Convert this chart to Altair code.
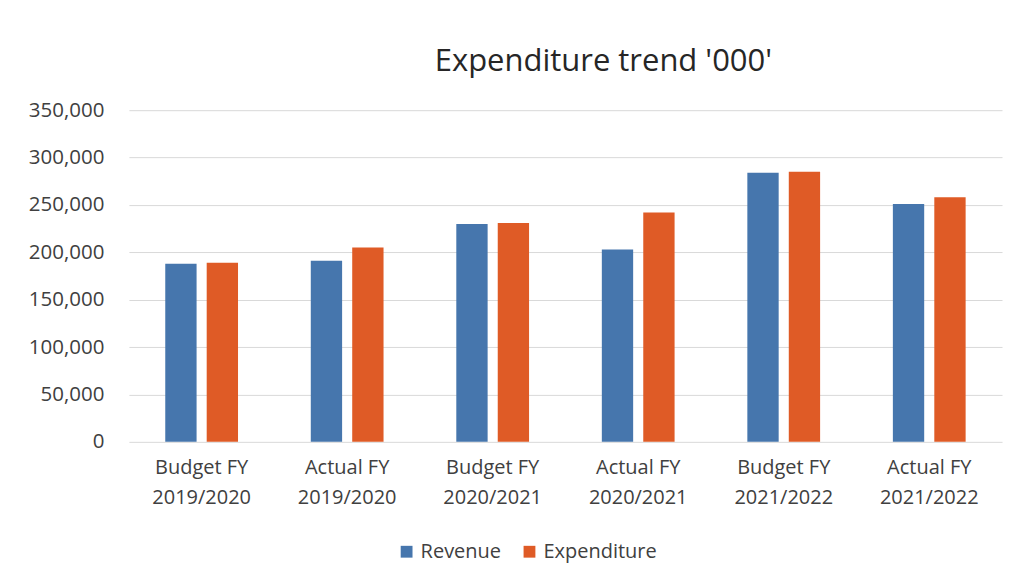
import altair as alt
import pandas as pd

categories = ["Budget FY|2019/2020", "Actual FY|2019/2020", "Budget FY|2020/2021",
              "Actual FY|2020/2021", "Budget FY|2021/2022", "Actual FY|2021/2022"]
revenue = [188000, 191000, 230000, 203000, 284000, 251000]
expenditure = [189000, 205000, 231000, 242000, 285000, 258000]
series = ["Revenue", "Expenditure"]
colors = ["#4676ad", "#df5b26"]

rows = []
for c, r, e in zip(categories, revenue, expenditure):
    rows.append({"cat": c, "series": "Revenue", "value": r})
    rows.append({"cat": c, "series": "Expenditure", "value": e})
df = pd.DataFrame(rows)

FONT = "Open Sans"

chart = alt.Chart(df).mark_bar().encode(
    x=alt.X("cat:N", sort=categories, title=None,
            scale=alt.Scale(paddingInner=0.5, paddingOuter=0.25),
            axis=alt.Axis(labelExpr="split(datum.label, '|')", labelAngle=0,
                          labelFontSize=20, labelColor="#404040", labelFont=FONT,
                          labelLineHeight=30, labelPadding=16,
                          ticks=False, domain=False, grid=False)),
    xOffset=alt.XOffset("series:N", sort=series, scale=alt.Scale(paddingInner=0.244)),
    y=alt.Y("value:Q", title=None,
            scale=alt.Scale(domain=[0, 350000]),
            axis=alt.Axis(values=[0, 50000, 100000, 150000, 200000, 250000, 300000, 350000],
                          format=",.0f", labelFontSize=20.5, labelColor="#404040", labelFont=FONT,
                          labelPadding=25, ticks=False, domain=False,
                          gridColor="#d9d9d9", gridWidth=1)),
    color=alt.Color("series:N", sort=series,
                    scale=alt.Scale(domain=series, range=colors),
                    legend=alt.Legend(title=None, orient="none", direction="horizontal",
                                      legendX=268, legendY=432,
                                      symbolType="square", symbolSize=140,
                                      labelFontSize=20, labelColor="#404040", labelFont=FONT,
                                      labelOffset=4, columnPadding=18, symbolStrokeWidth=0)),
).properties(
    width=874, height=332,
    title=alt.Title("Expenditure trend '000'", fontSize=31, font=FONT, color="#262626",
                    fontWeight="normal", dx=38, offset=22),
    padding={"left": 20, "top": 38, "right": 10, "bottom": 5},
    background="white",
).configure_view(stroke=None)

chart.save("out.html", embed_options={"renderer": "svg", "actions": False})
